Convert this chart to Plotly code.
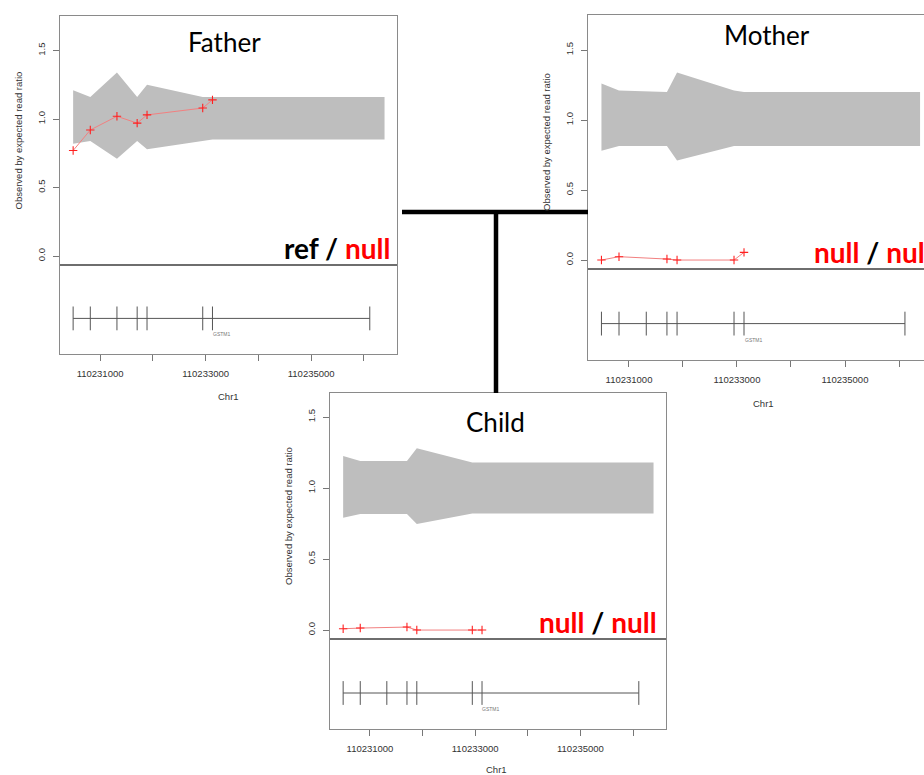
import plotly.graph_objects as go

W, H = 924, 775

# ---------------- data ----------------
panel_names = ["Father", "Mother", "Child"]
genotype_left = ["ref", "null", "null"]
genotype_right = ["null", "null", "null"]

exon_pos = [110230490, 110230815, 110231320, 110231703, 110231890, 110232945, 110233130, 110236110]
band_end = 110236390
gene_name = "GSTM1"
gene_label_pos = 110233300

father_pos = [110230490, 110230815, 110231320, 110231703, 110231890, 110232945, 110233130]
father_ratio = [0.77, 0.92, 1.02, 0.97, 1.03, 1.08, 1.14]
father_upper = [1.21, 1.16, 1.34, 1.16, 1.25, 1.16, 1.16, 1.16]
father_lower = [0.82, 0.84, 0.71, 0.84, 0.78, 0.84, 0.85, 0.85]

mother_pos = [110230490, 110230815, 110231703, 110231890, 110232945, 110233130]
mother_ratio = [0.0, 0.024, 0.007, 0.0, 0.0, 0.055]
mother_upper = [1.26, 1.21, 1.20, 1.34, 1.21, 1.20, 1.20]
mother_lower = [0.78, 0.815, 0.815, 0.71, 0.815, 0.815, 0.815]

child_pos = [110230490, 110230815, 110231703, 110231890, 110232945, 110233130]
child_ratio = [0.009, 0.014, 0.021, 0.0, 0.0, 0.0]
child_upper = [1.225, 1.19, 1.19, 1.28, 1.18, 1.18, 1.18]
child_lower = [0.79, 0.817, 0.817, 0.747, 0.82, 0.82, 0.82]

x_tickvals = [110231000, 110232000, 110233000, 110234000, 110235000, 110236000]
x_ticktext = ["110231000", "", "110233000", "", "110235000", ""]
y_tickvals = [0.0, 0.5, 1.0, 1.5]
y_ticktext = ["0.0", "0.5", "1.0", "1.5"]
y_title = "Observed by expected read ratio"
x_title = "Chr1"

series = [
    (father_pos, father_ratio, father_upper, father_lower),
    (mother_pos, mother_ratio, mother_upper, mother_lower),
    (child_pos, child_ratio, child_upper, child_lower),
]

# ---------------- layout geometry (pixels) ----------------
geom = [
    dict(x0=60, x1=397, top=16, div=265, bot=354, xr=[110230241, 110236626], yr=[-0.0657, 1.752], right=True),
    dict(x0=588, x1=924, top=15, div=269, bot=360, xr=[110230241, 110236463], yr=[-0.064, 1.75], right=False),
    dict(x0=330, x1=666, top=393, div=639, bot=729, xr=[110230240, 110236627], yr=[-0.063, 1.669], right=True),
]
title_pos = [(224, 42), (767, 35), (495, 422)]
xtitle_pos = [(228, 396), (763, 404), (497, 769)]
ytitle_x = [18, 546, 288]
label_anchor = [("right", 392), ("left", 812), ("right", 659)]
label_bottom = [267, 271, 641]


def px(x):
    return x / W


def py(y):
    return 1 - y / H


FRAME = "#8a8a8a"
TICKFONT = dict(family="Liberation Sans, Arial, sans-serif", size=9.5, color="#333333")

fig = go.Figure()
layout = dict(
    width=W, height=H, margin=dict(l=0, r=0, t=0, b=0),
    paper_bgcolor="white", plot_bgcolor="white", showlegend=False,
    annotations=[], shapes=[],
)


def colored(t):
    return f"<span style='color:#ff0000'>{t}</span>" if t == "null" else t


for i, (g, (pos, ratio, up, lo)) in enumerate(zip(geom, series)):
    ku = 2 * i + 1
    kl = 2 * i + 2
    xu, yu = f"x{ku}", f"y{ku}"
    xl, yl = f"x{kl}", f"y{kl}"
    band_x = list(pos) + [band_end]

    # band
    fig.add_trace(go.Scatter(x=band_x, y=lo, mode="lines", line=dict(width=0, color="#bebebe"),
                             xaxis=xu, yaxis=yu, hoverinfo="skip"))
    fig.add_trace(go.Scatter(x=band_x, y=up, mode="lines", line=dict(width=0, color="#bebebe"),
                             fill="tonexty", fillcolor="#bebebe", xaxis=xu, yaxis=yu, hoverinfo="skip"))
    # observed ratio
    fig.add_trace(go.Scatter(x=pos, y=ratio, mode="lines+markers",
                             line=dict(color="#f28080", width=1),
                             marker=dict(symbol="cross-thin", size=6, line=dict(width=1.1, color="#ff2020")),
                             xaxis=xu, yaxis=yu))
    # gene model
    fig.add_trace(go.Scatter(x=exon_pos, y=[0.4] * len(exon_pos), mode="lines+markers",
                             line=dict(color="#555555", width=1),
                             marker=dict(symbol="line-ns", size=17, line=dict(width=1, color="#555555")),
                             xaxis=xl, yaxis=yl))

    xdom = [px(g["x0"]), min(1.0, px(g["x1"]))]
    layout[f"xaxis{ku}"] = dict(domain=xdom, anchor=yu, range=g["xr"], showline=True, mirror=True,
                                linecolor=FRAME, linewidth=1.3, showgrid=False, zeroline=False,
                                showticklabels=False, ticks="")
    layout[f"yaxis{ku}"] = dict(domain=[py(g["div"]), py(g["top"])], anchor=xu, range=g["yr"],
                                showline=True, mirror=g["right"], linecolor=FRAME, linewidth=1.3,
                                showgrid=False, zeroline=False, tickvals=y_tickvals, ticktext=y_ticktext,
                                tickangle=-90, ticks="outside", ticklen=6, tickcolor="#777777",
                                tickfont=TICKFONT, ticklabelstandoff=4)
    layout[f"xaxis{kl}"] = dict(domain=xdom, anchor=yl, range=g["xr"], showline=True, mirror=True,
                                linecolor=FRAME, linewidth=1.3, showgrid=False, zeroline=False,
                                tickvals=x_tickvals, ticktext=x_ticktext, ticks="outside", ticklen=6,
                                tickcolor="#777777", tickfont=TICKFONT, ticklabelstandoff=4)
    layout[f"yaxis{kl}"] = dict(domain=[py(g["bot"]), py(g["div"])], anchor=xl, range=[0, 1],
                                showline=True, mirror=g["right"], linecolor=FRAME, linewidth=1.3,
                                showgrid=False, zeroline=False, showticklabels=False, ticks="")
    # divider line (slightly darker)
    layout["shapes"].append(dict(type="line", xref="paper", yref="paper",
                                 x0=xdom[0], x1=xdom[1], y0=py(g["div"]), y1=py(g["div"]),
                                 line=dict(color="#6e6e6e", width=2)))

    # gene label
    layout["annotations"].append(dict(x=gene_label_pos, y=0.22, xref=xl, yref=yl, text=gene_name,
                                      showarrow=False, font=dict(size=5, color="#777777",
                                                                 family="Liberation Sans, Arial")))
    # panel title
    tx, ty = title_pos[i]
    layout["annotations"].append(dict(x=px(tx), y=py(ty), xref="paper", yref="paper", text=panel_names[i],
                                      showarrow=False, xanchor="center", yanchor="middle",
                                      font=dict(family="Lato, sans-serif", size=26, color="black")))
    # x title
    cx, cy = xtitle_pos[i]
    layout["annotations"].append(dict(x=px(cx), y=py(cy), xref="paper", yref="paper", text=x_title,
                                      showarrow=False, xanchor="center", yanchor="middle", font=TICKFONT))
    # y title
    layout["annotations"].append(dict(x=px(ytitle_x[i]), y=py((g["top"] + g["div"]) / 2), xref="paper",
                                      yref="paper", text=y_title, textangle=-90, showarrow=False,
                                      xanchor="center", yanchor="middle",
                                      font=dict(family="Liberation Sans, Arial", size=9.5, color="#333333")))
    # genotype label
    gt = f"<b>{colored(genotype_left[i])} / {colored(genotype_right[i])}</b>"
    anc, lx = label_anchor[i]
    layout["annotations"].append(dict(x=px(lx), y=py(label_bottom[i]), xref="paper", yref="paper", text=gt,
                                      showarrow=False, xanchor=anc, yanchor="bottom",
                                      font=dict(family="Lato, sans-serif", size=28, color="black")))

# pedigree connectors
layout["shapes"].append(dict(type="line", xref="paper", yref="paper", x0=px(402), x1=px(588),
                             y0=py(212), y1=py(212), line=dict(color="black", width=4.5)))
layout["shapes"].append(dict(type="line", xref="paper", yref="paper", x0=px(496), x1=px(496),
                             y0=py(212), y1=py(393), line=dict(color="black", width=4.5)))

fig.update_layout(**layout)
fig.write_html("out.html")
